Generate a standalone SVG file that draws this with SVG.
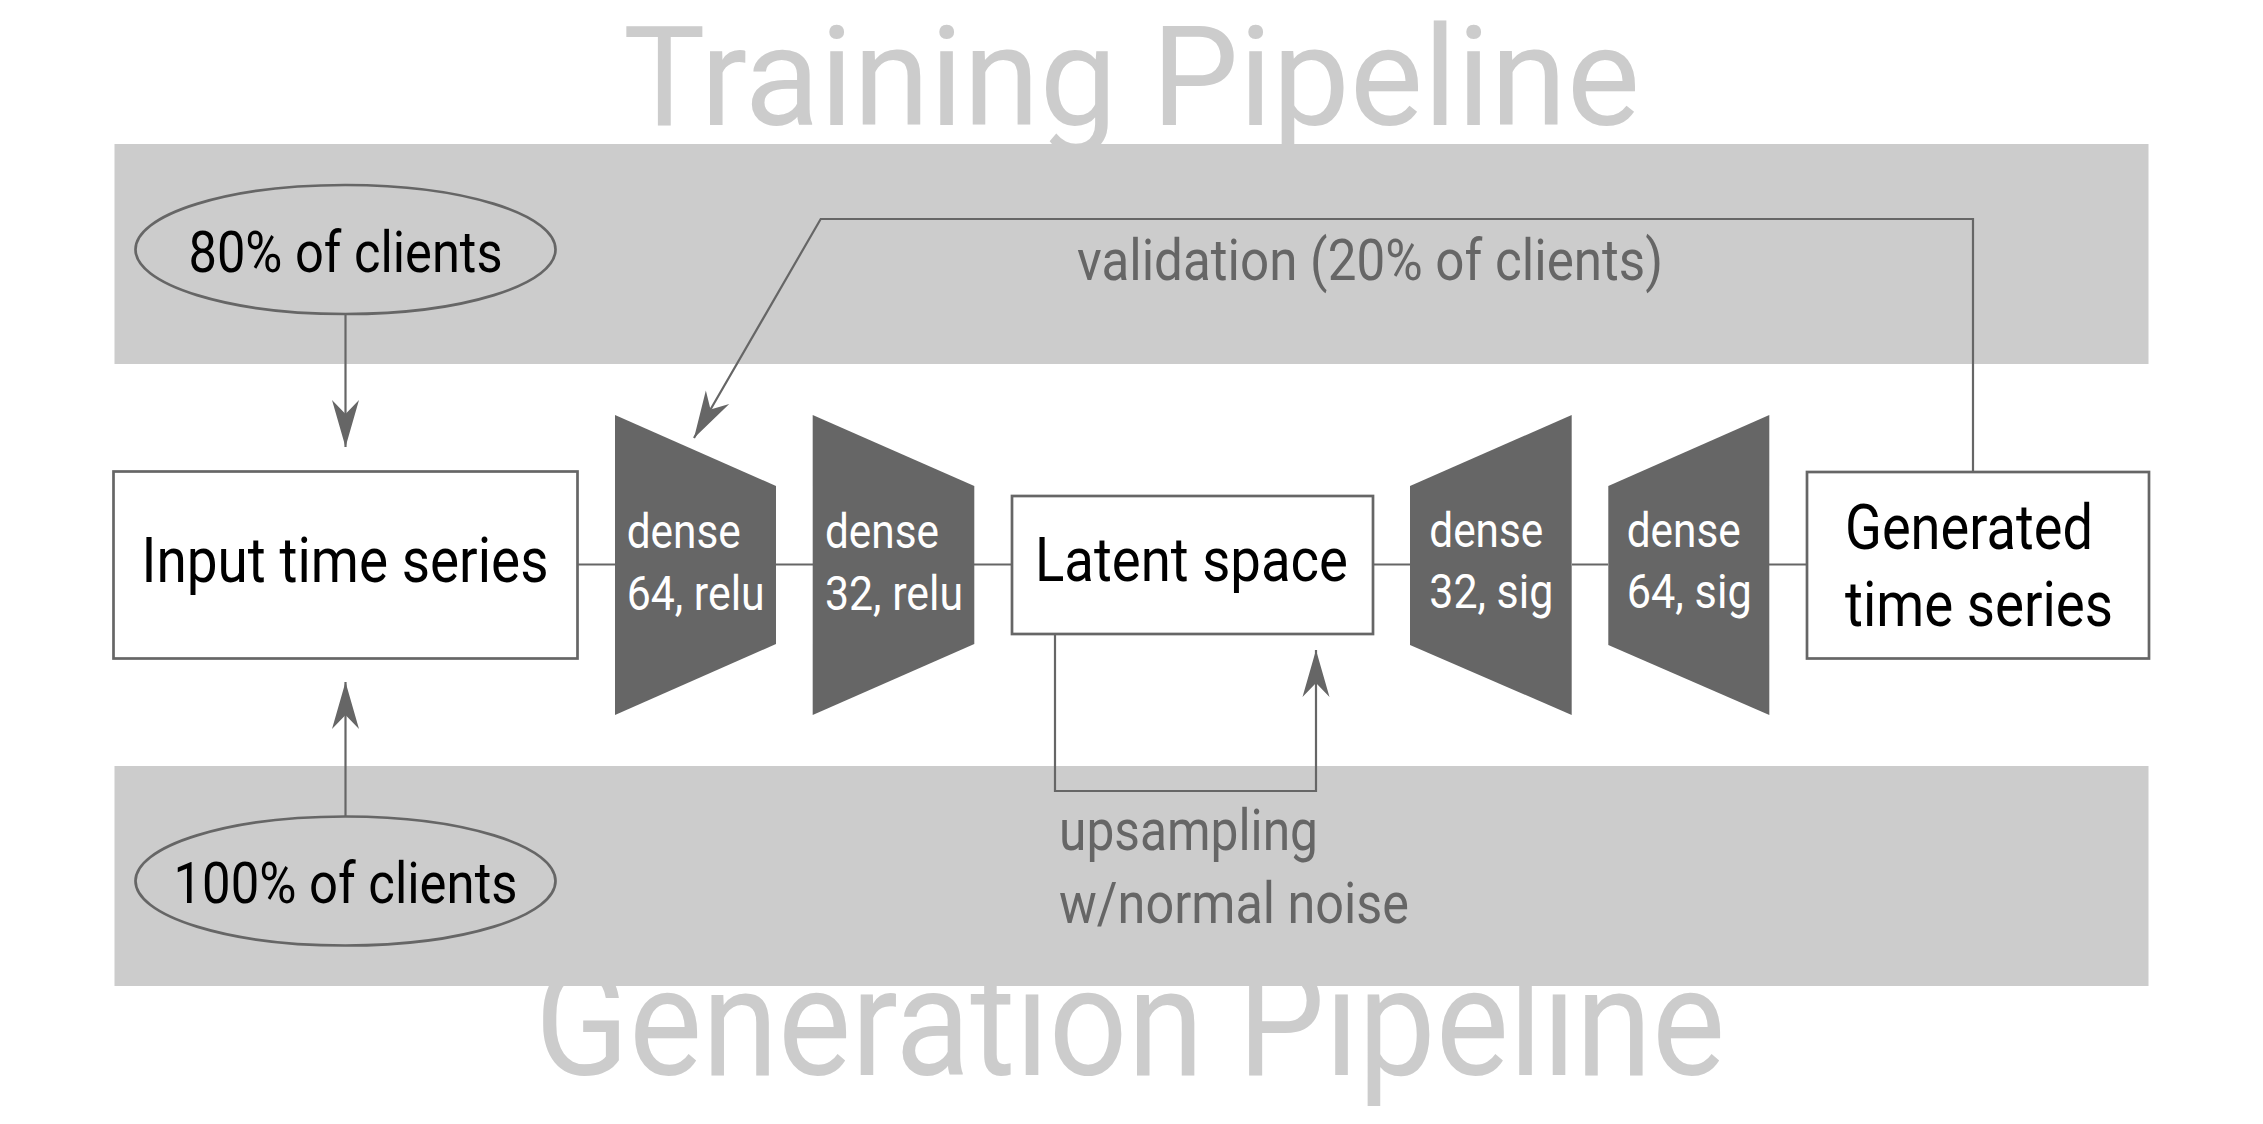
<svg xmlns="http://www.w3.org/2000/svg" width="2263" height="1124" viewBox="0 0 2263 1124">
<style>
  text { font-family: Roboto, "Liberation Sans", sans-serif; }
  .title { fill: #cccccc; text-anchor: middle; }
  .band { fill: #cccccc; }
  .box { fill: #ffffff; stroke: #666666; stroke-width: 2.7; }
  .oval { fill: #cccccc; stroke: #666666; stroke-width: 2.7; }
  .trap { fill: #666666; }
  .lbl { fill: #000000; font-size: 63px; }
  .olbl { fill: #000000; font-size: 58px; text-anchor: middle; }
  .dlbl { fill: #ffffff; font-size: 49px; }
  .note { fill: #666666; font-size: 58px; }
  .conn { fill: none; stroke: #666666; stroke-width: 2.2; }
</style>
<defs>
  <marker id="ah" markerUnits="userSpaceOnUse" viewBox="-48 -15 50 30" markerWidth="50" markerHeight="30" refX="0" refY="0" orient="auto">
    <path d="M0,0 L-47,-13.5 L-33,0 L-47,13.5 Z" fill="#666666"/>
  </marker>
</defs>

<g id="titles">
  <text class="title" x="1131.5" y="125" style="font-size:140px" textLength="1017" lengthAdjust="spacingAndGlyphs">Training Pipeline</text>
  <text class="title" x="1130" y="1075" style="font-size:152px" textLength="1190" lengthAdjust="spacingAndGlyphs">Generation Pipeline</text>
</g>

<g id="bands">
  <rect class="band" x="114.5" y="144" width="2034" height="220"/>
  <rect class="band" x="114.5" y="766" width="2034" height="220"/>
</g>

<g id="connectors">
  <line class="conn" x1="345.5" y1="314" x2="345.5" y2="447" marker-end="url(#ah)"/>
  <line class="conn" x1="345.5" y1="816" x2="345.5" y2="682" marker-end="url(#ah)"/>
  <line class="conn" x1="577" y1="564.5" x2="615" y2="564.5"/>
  <line class="conn" x1="776" y1="564.5" x2="813" y2="564.5"/>
  <line class="conn" x1="974" y1="564.5" x2="1012" y2="564.5"/>
  <line class="conn" x1="1373" y1="564.5" x2="1410" y2="564.5"/>
  <line class="conn" x1="1572" y1="564.5" x2="1608" y2="564.5"/>
  <line class="conn" x1="1769" y1="564.5" x2="1807" y2="564.5"/>
  <path class="conn" d="M1055,634 V791 H1316 V650" marker-end="url(#ah)"/>
  <path class="conn" d="M1973,472 V219 H820.7 L694,438" marker-end="url(#ah)"/>
  <text class="note" x="1077" y="280" textLength="586" lengthAdjust="spacingAndGlyphs">validation (20% of clients)</text>
  <text class="note" x="1059" y="850" textLength="259" lengthAdjust="spacingAndGlyphs">upsampling</text>
  <text class="note" x="1059" y="922.7" textLength="350" lengthAdjust="spacingAndGlyphs">w/normal noise</text>
</g>

<g id="clients80">
  <ellipse class="oval" cx="345.5" cy="249.5" rx="210" ry="64.5"/>
  <text class="olbl" x="345.5" y="271.7" textLength="314" lengthAdjust="spacingAndGlyphs">80% of clients</text>
</g>

<g id="clients100">
  <ellipse class="oval" cx="345.5" cy="881" rx="210" ry="64.5"/>
  <text class="olbl" x="345.5" y="902.5" textLength="344" lengthAdjust="spacingAndGlyphs">100% of clients</text>
</g>

<g id="input">
  <rect class="box" x="113.5" y="471.5" width="464" height="187"/>
  <text class="lbl" x="345" y="582" text-anchor="middle" textLength="407" lengthAdjust="spacingAndGlyphs">Input time series</text>
</g>

<g id="enc1">
  <polygon class="trap" points="615,415 776,486 776,644 615,715"/>
  <text class="dlbl" x="626.7" y="548.3" textLength="114" lengthAdjust="spacingAndGlyphs">dense</text>
  <text class="dlbl" x="626.7" y="610" textLength="138" lengthAdjust="spacingAndGlyphs">64, relu</text>
</g>

<g id="enc2">
  <polygon class="trap" points="812.7,415 974.3,486 974.3,644 812.7,715"/>
  <text class="dlbl" x="825" y="548.3" textLength="114" lengthAdjust="spacingAndGlyphs">dense</text>
  <text class="dlbl" x="825" y="610" textLength="138" lengthAdjust="spacingAndGlyphs">32, relu</text>
</g>

<g id="latent">
  <rect class="box" x="1012" y="496" width="361" height="138"/>
  <text class="lbl" x="1035" y="581" style="font-size:62px" textLength="313" lengthAdjust="spacingAndGlyphs">Latent space</text>
</g>

<g id="dec1">
  <polygon class="trap" points="1410,486 1571.7,415 1571.7,715 1410,645"/>
  <text class="dlbl" x="1429.3" y="547" textLength="114" lengthAdjust="spacingAndGlyphs">dense</text>
  <text class="dlbl" x="1429.3" y="608" textLength="124" lengthAdjust="spacingAndGlyphs">32, sig</text>
</g>

<g id="dec2">
  <polygon class="trap" points="1608.3,486 1769.3,415 1769.3,715 1608.3,645"/>
  <text class="dlbl" x="1626.7" y="547" textLength="114" lengthAdjust="spacingAndGlyphs">dense</text>
  <text class="dlbl" x="1626.7" y="608" textLength="125" lengthAdjust="spacingAndGlyphs">64, sig</text>
</g>

<g id="generated">
  <rect class="box" x="1807" y="472" width="342" height="186.5"/>
  <text class="lbl" x="1845" y="549.3" textLength="248" lengthAdjust="spacingAndGlyphs">Generated</text>
  <text class="lbl" x="1845" y="626" textLength="268" lengthAdjust="spacingAndGlyphs">time series</text>
</g>
</svg>
